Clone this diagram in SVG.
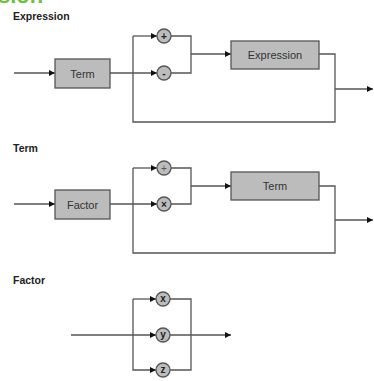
<svg xmlns="http://www.w3.org/2000/svg" width="374" height="381" viewBox="0 0 374 381">
  <style>
    .title { font-family: "Liberation Sans", Arial, sans-serif; font-size: 10.5px; font-weight: bold; fill: #222; }
    .head { font-family: "Liberation Sans", Arial, sans-serif; font-size: 22px; font-weight: bold; fill: #6cbf3c; }
    .box rect { fill: #bcbcbc; stroke: #555; stroke-width: 1.3; }
    .box text { font-family: "Liberation Sans", Arial, sans-serif; font-size: 11px; fill: #333; text-anchor: middle; }
    .op circle { fill: #bcbcbc; stroke: #555; stroke-width: 1.3; }
    .op text { font-family: "Liberation Sans", Arial, sans-serif; font-size: 10px; font-weight: bold; fill: #222; text-anchor: middle; }
    .wire { fill: none; stroke: #555; stroke-width: 1.3; }
  </style>
  <defs>
    <marker id="arrow" markerUnits="userSpaceOnUse" markerWidth="7" markerHeight="6" refX="6" refY="3" orient="auto">
      <path d="M0,0 L6,3 L0,6 Z" fill="#111"/>
    </marker>
  </defs>

  <rect width="374" height="381" fill="#fff"/>
  <!-- page heading, cut by the top edge -->
  <text class="head" x="-2" y="3">sion</text>

  <text class="title" x="13" y="20">Expression</text>
  <text class="title" x="13" y="152">Term</text>
  <text class="title" x="13" y="284">Factor</text>

  <g id="connectors">
    <!-- Expression rule -->
    <path class="wire" d="M14,73 H55" marker-end="url(#arrow)"/>
    <path class="wire" d="M110,73 H157" marker-end="url(#arrow)"/>
    <path class="wire" d="M133,36 H157" marker-end="url(#arrow)"/>
    <path class="wire" d="M319,54 H335 V122 H133 V36"/>
    <path class="wire" d="M171,36 H191 V73 H171"/>
    <path class="wire" d="M191,54 H231" marker-end="url(#arrow)"/>
    <path class="wire" d="M335,89 H373" marker-end="url(#arrow)"/>

    <!-- Term rule -->
    <path class="wire" d="M14,204 H55" marker-end="url(#arrow)"/>
    <path class="wire" d="M110,204 H157" marker-end="url(#arrow)"/>
    <path class="wire" d="M133,168 H157" marker-end="url(#arrow)"/>
    <path class="wire" d="M319,186 H335 V253 H133 V168"/>
    <path class="wire" d="M171,168 H191 V204 H171"/>
    <path class="wire" d="M191,186 H231" marker-end="url(#arrow)"/>
    <path class="wire" d="M335,220 H373" marker-end="url(#arrow)"/>

    <!-- Factor rule -->
    <path class="wire" d="M71,335 H156" marker-end="url(#arrow)"/>
    <path class="wire" d="M133,299 H156" marker-end="url(#arrow)"/>
    <path class="wire" d="M133,299 V370 H156" marker-end="url(#arrow)"/>
    <path class="wire" d="M170,299 H191 V370 H170"/>
    <path class="wire" d="M170,335 H231" marker-end="url(#arrow)"/>
  </g>

  <!-- Expression rule nodes -->
  <g id="expr-term" class="box"><rect x="55" y="59" width="55" height="29"/><text x="82.5" y="77.5">Term</text></g>
  <g id="expr-plus" class="op"><circle cx="164" cy="36" r="7"/><text x="164" y="39.5">+</text></g>
  <g id="expr-minus" class="op"><circle cx="164" cy="73" r="7"/><text x="164" y="76.5">-</text></g>
  <g id="expr-expression" class="box"><rect x="231" y="41" width="88" height="28"/><text x="275" y="59">Expression</text></g>

  <!-- Term rule nodes -->
  <g id="term-factor" class="box"><rect x="55" y="190" width="55" height="29"/><text x="82.5" y="208.5">Factor</text></g>
  <g id="term-plus" class="op"><circle cx="164" cy="168" r="7"/><text x="164" y="171.5" style="font-weight:normal;fill:#555">+</text></g>
  <g id="term-times" class="op"><circle cx="164" cy="204" r="7"/><text x="164" y="207.5">×</text></g>
  <g id="term-term" class="box"><rect x="231" y="172" width="88" height="28"/><text x="275" y="190">Term</text></g>

  <!-- Factor rule nodes -->
  <g id="factor-x" class="op"><circle cx="163" cy="299" r="7"/><text x="163" y="302">x</text></g>
  <g id="factor-y" class="op"><circle cx="163" cy="335" r="7"/><text x="163" y="338">y</text></g>
  <g id="factor-z" class="op"><circle cx="163" cy="370" r="7"/><text x="163" y="373">z</text></g>
</svg>
